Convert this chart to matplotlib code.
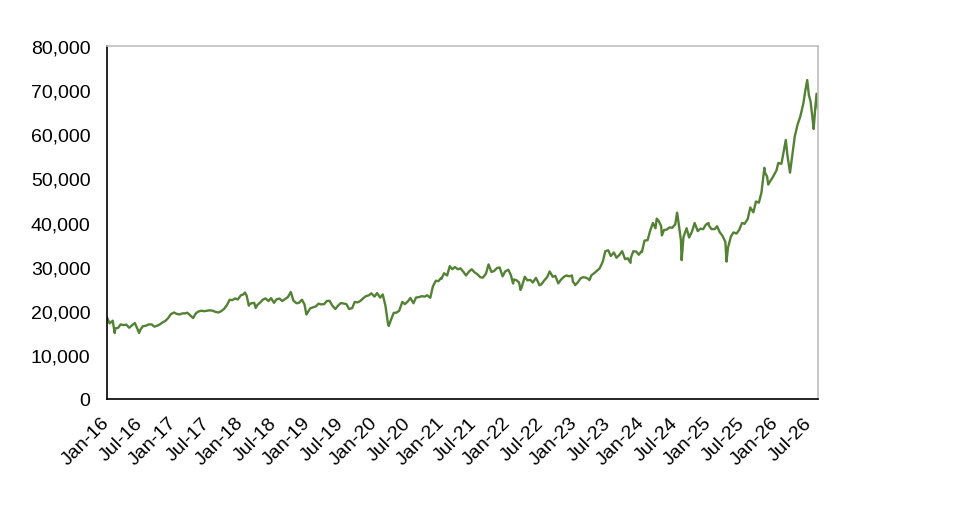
import matplotlib
matplotlib.use('Agg')
import matplotlib.pyplot as plt
import matplotlib.dates as mdates
from matplotlib.ticker import FuncFormatter, MultipleLocator
import pandas as pd

# valores: dia 1 y dia 15 de cada mes
v2016 = [18450, 17150, 17750, 16000, 16100, 16900, 16750, 16850, 16150, 16650, 17200, 15900,
         15700, 16500, 16600, 16900, 16900, 16400, 16600, 16900, 17400, 17700, 18400, 19250]
v2017 = [19600, 19300, 19150, 19400, 19400, 19550, 18900, 18350, 19450, 19850, 20000, 19900,
         20000, 20100, 20000, 19750, 19600, 19900, 20400, 21150, 22500, 22400, 22800, 22550]
v2018 = [23500, 23700, 23500, 21450, 21700, 21800, 21300, 21800, 22500, 22800, 22200, 22850,
         21800, 22600, 22750, 22200, 22700, 23100, 24250, 22300, 21700, 21800, 22500, 21400]
v2019 = [19600, 20550, 20790, 21000, 21600, 21450, 21500, 22200, 22250, 21200, 20400, 21100,
         21750, 21650, 21500, 20400, 20600, 21990, 21900, 22200, 22850, 23300, 23500, 23950]
v2020 = [23200, 24000, 22970, 23700, 21100, 17000, 18070, 19500, 19600, 20000, 22000, 21500,
         22100, 22900, 21700, 23000, 23100, 23300, 23200, 23500, 22950, 25500, 26800, 26700]
v2021 = [27250, 28500, 28000, 30100, 29400, 29900, 29400, 29600, 28800, 28000, 28900, 29400,
         28700, 28300, 27600, 27500, 28400, 30500, 28800, 29000, 29700, 29800, 27800, 28900]
v2022 = [29300, 28100, 27100, 26900, 26400, 25300, 27700, 26900, 27000, 26400, 27450, 26300,
         26000, 26800, 27600, 28900, 27700, 27900, 26200, 27000, 27700, 28000, 27800, 28000]
v2023 = [25800, 26400, 27400, 27600, 27500, 27200, 28100, 28500, 29100, 29600, 31100, 33500,
         33700, 32400, 33200, 32000, 32700, 33500, 31700, 31900, 31950, 33500, 33400, 32700]
v2024 = [33300, 35900, 36000, 38150, 39900, 38700, 40400, 39200, 38300, 38400, 38900, 38800,
         39600, 41200, 36000, 36700, 38700, 36600, 38000, 39900, 38050, 38600, 38500, 39500]
v2025 = [39300, 38500, 38500, 39150, 37800, 37050, 35600, 34270, 36800, 37750, 37500, 38300,
         39900, 39700, 40800, 43400, 42300, 44770, 44500, 46800, 51500, 50400, 49300, 50200]

# picos y caidas puntuales
picos_fechas = ['2016-02-12', '2016-06-24', '2018-01-23', '2018-02-14', '2018-03-23', '2018-12-25',
                '2020-03-19', '2020-12-30', '2022-01-27', '2022-03-09', '2022-06-20', '2022-12-20',
                '2022-12-30', '2023-03-20', '2023-10-31', '2023-12-29', '2024-03-22', '2024-04-19',
                '2024-07-11', '2024-08-05', '2024-12-30', '2025-04-07', '2025-10-31', '2025-11-21']
picos_valores = [14950, 14950, 24120, 21150, 20620, 19150,
                 16550, 27440, 26170, 24717, 25770, 26570,
                 26095, 26945, 30860, 33464, 40890, 37070,
                 42220, 31460, 39895, 31140, 52400, 48600]

# tramo final 2026
fechas_2026 = ['2026-01-05', '2026-01-15', '2026-02-01', '2026-02-15', '2026-02-25', '2026-03-05',
               '2026-03-20', '2026-04-01', '2026-04-15', '2026-05-01', '2026-05-15', '2026-06-01',
               '2026-06-12', '2026-06-22', '2026-07-01', '2026-07-10', '2026-07-20', '2026-07-27',
               '2026-08-05', '2026-08-12', '2026-08-20']
valores_2026 = [51800, 53500, 53300, 56500, 58700, 55500,
                51300, 55000, 59500, 62300, 64000, 67000,
                70000, 72300, 68900, 67500, 64000, 61200,
                66000, 69200, 65800]

anios = {2016: v2016, 2017: v2017, 2018: v2018, 2019: v2019, 2020: v2020,
         2021: v2021, 2022: v2022, 2023: v2023, 2024: v2024, 2025: v2025}

partes = []
for anio, vals in anios.items():
    fechas = pd.date_range(f'{anio}-01-01', periods=len(vals), freq='SMS')
    partes.append(pd.Series(vals, index=fechas))
partes.append(pd.Series(picos_valores, index=pd.to_datetime(picos_fechas)))
partes.append(pd.Series(valores_2026, index=pd.to_datetime(fechas_2026)))
serie = pd.concat(partes).sort_index()

plt.rcParams['font.family'] = ['Liberation Sans', 'DejaVu Sans']

fig = plt.figure(figsize=(9.6, 5.1), dpi=100)
ax = fig.add_axes([0.1115, 0.2157, 0.7406, 0.6921])

ax.plot(serie.index, serie.values, color='#548235', linewidth=1.7)

ax.set_xlim(pd.Timestamp('2016-01-01'), serie.index[-1])
ax.set_ylim(0, 80000)
ax.yaxis.set_major_locator(MultipleLocator(10000))
ax.yaxis.set_major_formatter(FuncFormatter(lambda v, p: f'{int(v):,}'))

ax.xaxis.set_major_locator(mdates.MonthLocator(bymonth=[1, 7]))
ax.xaxis.set_major_formatter(mdates.DateFormatter('%b-%y'))

ax.tick_params(axis='y', length=0, pad=12, labelsize=14)
ax.tick_params(axis='x', length=0, pad=15, labelsize=14)
for lbl in ax.get_xticklabels():
    lbl.set_rotation(45)
    lbl.set_ha('right')
    lbl.set_va('center')
    lbl.set_rotation_mode('anchor')

ax.spines['left'].set_color('black')
ax.spines['bottom'].set_color('black')
ax.spines['top'].set_color('#bfbfbf')
ax.spines['right'].set_color('#bfbfbf')
for s in ax.spines.values():
    s.set_linewidth(1.2)

fig.savefig('out.png', dpi=100)
